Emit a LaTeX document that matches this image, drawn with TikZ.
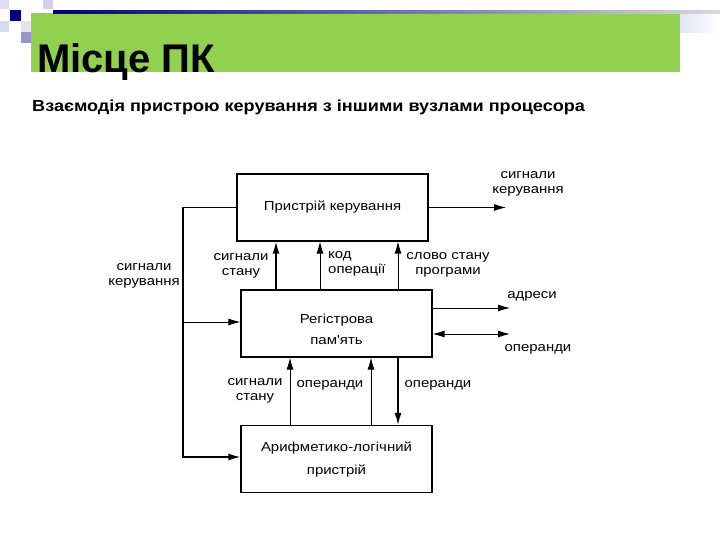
\documentclass[tikz,border=0pt]{standalone}
\usepackage{fontspec}
\setmainfont{Liberation Sans}
\newfontfamily\titlefont{Liberation Sans}
\newfontfamily\leadfont[FakeStretch=1.13]{Liberation Sans}
\newfontfamily\scanfont[FakeStretch=1.15]{Liberation Sans}
\usetikzlibrary{arrows.meta}
\definecolor{titlegreen}{RGB}{146,208,80}
\definecolor{navy}{RGB}{0,0,128}
\definecolor{lavender}{RGB}{208,208,234}
\definecolor{dimlavender}{RGB}{150,150,200}

\begin{document}
\begin{tikzpicture}[x=1pt, y=-1pt,
    >={Latex[length=12pt,width=7pt]},
    font=\scanfont\fontsize{13}{15}\selectfont,
    block/.style={draw, line width=1.1pt, minimum width=191pt, minimum height=67pt, inner sep=0pt, align=center},
    lbl/.style={align=center, inner sep=0pt},
    wire/.style={line width=0.9pt},
    bus/.style={line width=1.6pt}]
    \useasboundingbox (0,0) rectangle (720,540);
    % Titelleiste
    \fill[lavender!70] (0,0) rectangle (9,9);
    \fill[lavender] (43,0) rectangle (53,9);
    \fill[lavender!80] (0,21) rectangle (9,32);
    \fill[lavender!60] (21,21) rectangle (32,32);
    \fill[dimlavender] (21,32) rectangle (32,43);
    \fill[navy] (10,10) rectangle (21,21);
    \shade[left color=lavender!60, right color=white] (680,13) rectangle (720,33);
    \fill[titlegreen] (31,13) rectangle (680,72);
    \shade[left color=navy, right color=gray!30] (53,11) rectangle (720,13.5);
    \node[anchor=base west, inner sep=0pt, font=\titlefont\bfseries\fontsize{40}{40}\selectfont] (title) at (37,73) {Місце ПК};
    \node[anchor=base west, inner sep=0pt, font=\leadfont\bfseries\fontsize{16}{16}\selectfont] (subtitle) at (32,112) {Взаємодія пристрою керування з іншими вузлами процесора};
    % Blöcke
    \node[block] (ctrl) at (332.5,207.5) {Пристрій керування};
    \node[block] (regs) at (336.5,323.5) {};
    \node[lbl] (regs-text) at ([yshift=-6pt]regs.center) {Регістрова\\[6pt]пам'ять};
    \node[block] (alu) at (336.5,459) {};
    \node[lbl] (alu-text) at ([yshift=-1pt]alu.center) {Арифметико-логічний\\[8pt]пристрій};
    % Rückführung links
    \coordinate (loop-top) at (183,207.5);
    \coordinate (loop-mid) at (183,322);
    \coordinate (loop-bot) at (183,457);
    \draw[bus,->] (ctrl.west) -- (loop-top) -- (loop-bot) -- (alu.west |- loop-bot);
    \draw[wire,->] (loop-mid) -- (regs.west |- loop-mid);
    % Verbindungen nach oben
    \coordinate (up-state) at (276,0);
    \coordinate (up-code) at (320,0);
    \coordinate (up-word) at (398,0);
    \draw[bus,->] (regs.north -| up-state) -- (ctrl.south -| up-state);
    \draw[wire,->] (regs.north -| up-code) -- (ctrl.south -| up-code);
    \draw[wire,->] (regs.north -| up-word) -- (ctrl.south -| up-word);
    \coordinate (alu-state) at (290,0);
    \coordinate (alu-up) at (371,0);
    \coordinate (alu-down) at (398,0);
    \draw[wire,->] (alu.north -| alu-state) -- (regs.south -| alu-state);
    \draw[wire,->] (alu.north -| alu-up) -- (regs.south -| alu-up);
    \draw[bus,->] (regs.south -| alu-down) -- (alu.north -| alu-down);
    % Ausgänge rechts
    \coordinate (out-ctrl) at (506,207.5);
    \coordinate (out-addr) at (510,308);
    \coordinate (out-data) at (510,334);
    \draw[wire,->] (ctrl.east) -- (out-ctrl);
    \draw[wire,->] (regs.east |- out-addr) -- (out-addr);
    \draw[wire,<->] (regs.east |- out-data) -- (out-data);
    % Beschriftung
    \node[lbl] (l-ctrl-out) at (528,184) {сигнали\\керування};
    \node[lbl] (l-ctrl-in) at (144,276) {сигнали\\керування};
    \node[lbl] (l-state-up) at (241,266) {сигнали\\стану};
    \node[lbl, align=left, anchor=west] (l-code) at (328,264) {код\\операції};
    \node[lbl] (l-word) at (448,265) {слово стану\\програми};
    \node[lbl] (l-addr) at (532,296) {адреси};
    \node[lbl] (l-data-out) at (538,349) {операнди};
    \node[lbl] (l-state-alu) at (255,391) {сигнали\\стану};
    \node[lbl] (l-data-up) at (330,385) {операнди};
    \node[lbl] (l-data-down) at (438,385) {операнди};
\end{tikzpicture}
\end{document}
